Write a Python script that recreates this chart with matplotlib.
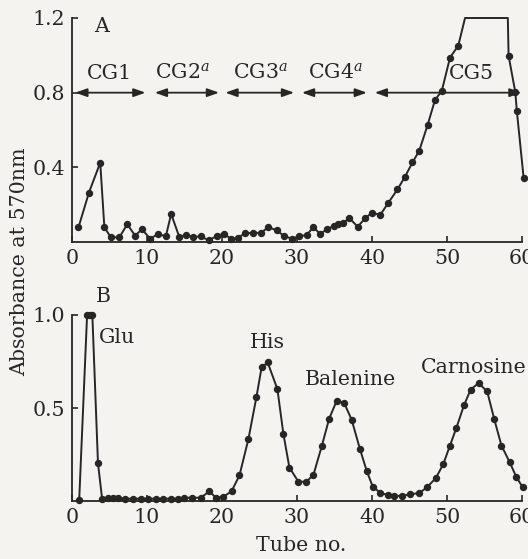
import matplotlib
matplotlib.use("Agg")
import matplotlib.pyplot as plt
from matplotlib.patches import FancyArrowPatch

plt.rcParams['font.family'] = ['DejaVu Serif']
plt.rcParams['mathtext.fontset'] = 'dejavuserif'

# ---- Panel A data (tube no., absorbance at 570 nm) ----
tube_a = [0.9, 2.3, 3.8, 4.35, 5.2, 6.35, 7.4, 8.45, 9.35, 10.45, 11.45, 12.55,
          13.25, 14.35, 15.2, 16.2, 17.2, 18.3, 19.3, 20.3, 21.2, 22.1, 23.1,
          24.2, 25.2, 26.2, 27.3, 28.3, 29.3, 30.3, 31.3, 32.2, 33.1, 34.0,
          34.9, 35.5, 36.2, 37.0, 38.1, 39.1, 40.0, 41.1, 42.2, 43.4, 44.35,
          45.4, 46.3, 47.4, 48.4, 49.3, 50.4, 51.5, 52.4, 58.1, 58.2, 59.1,
          59.3, 60.2]
abs_a = [0.078, 0.265, 0.425, 0.08, 0.025, 0.025, 0.095, 0.034, 0.068, 0.018,
         0.041, 0.032, 0.15, 0.025, 0.037, 0.027, 0.03, 0.008, 0.033, 0.045,
         0.016, 0.022, 0.046, 0.05, 0.048, 0.08, 0.062, 0.032, 0.018, 0.03,
         0.038, 0.079, 0.043, 0.068, 0.086, 0.096, 0.104, 0.127, 0.082, 0.127,
         0.157, 0.145, 0.211, 0.282, 0.346, 0.426, 0.489, 0.625, 0.761, 0.809,
         0.988, 1.052, 1.2, 1.2, 0.998, 0.802, 0.702, 0.345]
# off-scale points (plateau) drawn without markers
offscale_a = [1.2]

fractions = ["CG1", "CG2$^a$", "CG3$^a$", "CG4$^a$", "CG5"]
frac_start = [0.1, 10.7, 20.1, 30.3, 40.0]
frac_end = [10.2, 20.0, 30.0, 39.7, 60.3]
frac_label_x = [5.0, 14.7, 25.1, 35.1, 53.3]

# ---- Panel B data ----
tube_b = [1.0, 2.05, 2.4, 2.75, 3.5, 4.05, 4.8, 5.5, 6.2, 7.1, 8.2, 9.2, 10.2,
          11.2, 12.2, 13.2, 14.1, 15.0, 16.0, 17.2, 18.35, 19.2, 20.2, 21.3,
          22.35, 23.55, 24.6, 25.3, 26.1, 27.4, 28.2, 29.0, 30.2, 31.25, 32.2,
          33.3, 34.3, 35.3, 36.3, 37.3, 38.4, 39.3, 40.1, 41.1, 42.1, 43.0,
          44.0, 45.1, 46.3, 47.3, 48.5, 49.5, 50.35, 51.25, 52.25, 53.15, 54.2,
          55.35, 56.3, 57.25, 58.35, 59.25, 60.1]
abs_b = [0.01, 1.0, 1.0, 1.0, 0.205, 0.015, 0.02, 0.02, 0.02, 0.015, 0.015,
         0.015, 0.015, 0.015, 0.015, 0.015, 0.015, 0.02, 0.02, 0.02, 0.055,
         0.02, 0.025, 0.055, 0.14, 0.336, 0.558, 0.719, 0.746, 0.603, 0.363,
         0.182, 0.106, 0.106, 0.142, 0.295, 0.444, 0.54, 0.528, 0.438, 0.281,
         0.164, 0.08, 0.047, 0.035, 0.03, 0.03, 0.039, 0.045, 0.075, 0.125,
         0.2, 0.295, 0.395, 0.515, 0.6, 0.635, 0.59, 0.44, 0.30, 0.21, 0.13,
         0.075]

peaks = ["Glu", "His", "Balenine", "Carnosine"]
peak_x = [6.1, 26.1, 37.1, 53.6]
peak_y = [0.879, 0.852, 0.653, 0.72]

xticks = [0, 10, 20, 30, 40, 50, 60]
yticks_a = [0.4, 0.8, 1.2]
yticks_b = [0.5, 1.0]

BG = '#f4f3f0'
INK = '#262626'
FS = 14.8

fig = plt.figure(figsize=(5.28, 5.59), dpi=100, facecolor=BG)
axA = fig.add_axes([0.1358, 0.5671, 0.853, 0.4007])
axB = fig.add_axes([0.1358, 0.1029, 0.853, 0.3336])

for ax in (axA, axB):
    ax.set_facecolor(BG)
    for s in ('top', 'right'):
        ax.spines[s].set_visible(False)
    for s in ('left', 'bottom'):
        ax.spines[s].set_color(INK)
        ax.spines[s].set_linewidth(1.3)
    ax.set_xlim(0, 60)
    ax.set_xticks(xticks)
    ax.set_xticklabels([str(t) for t in xticks])
    ax.tick_params(direction='in', length=4, width=1.2, color=INK,
                   labelsize=FS, labelcolor=INK, pad=5)

# Panel A
axA.set_ylim(0, 1.2)
axA.set_yticks(yticks_a)
axA.set_yticklabels([f"{v:.1f}" for v in yticks_a])
axA.plot(tube_a, abs_a, '-', color=INK, lw=1.4, clip_on=False, zorder=3)
mx = [x for x, y in zip(tube_a, abs_a) if y not in offscale_a]
my = [y for y in abs_a if y not in offscale_a]
axA.plot(mx, my, 'o', color=INK, ms=4.3, clip_on=False, zorder=4)
axA.text(4.0, 1.153, "A", fontsize=FS, color=INK, ha='center', va='center')
for lab, x0, x1, lx in zip(fractions, frac_start, frac_end, frac_label_x):
    arr = FancyArrowPatch((x0, 0.8), (x1, 0.8),
                          arrowstyle='<|-|>,head_length=0.7,head_width=0.25',
                          mutation_scale=10, color=INK, lw=1.3,
                          clip_on=False, zorder=2)
    axA.add_patch(arr)
    axA.text(lx, 0.905, lab, fontsize=FS, color=INK, ha='center', va='center')

# Panel B
axB.set_ylim(0, 1.0)
axB.set_yticks(yticks_b)
axB.set_yticklabels([f"{v:.1f}" for v in yticks_b])
axB.plot(tube_b, abs_b, '-o', color=INK, lw=1.4, ms=4.3, clip_on=False, zorder=3)
axB.text(4.25, 1.097, "B", fontsize=FS, color=INK, ha='center', va='center',
         clip_on=False)
for lab, x, y in zip(peaks, peak_x, peak_y):
    axB.text(x, y, lab, fontsize=FS, color=INK, ha='center', va='center',
             clip_on=False)

fig.text(0.571, 0.025, "Tube no.", fontsize=FS, color=INK, ha='center', va='center')
fig.text(0.038, 0.531, "Absorbance at 570nm", fontsize=FS, color=INK,
         ha='center', va='center', rotation=90)

fig.savefig("out.png", dpi=100, facecolor=BG)
